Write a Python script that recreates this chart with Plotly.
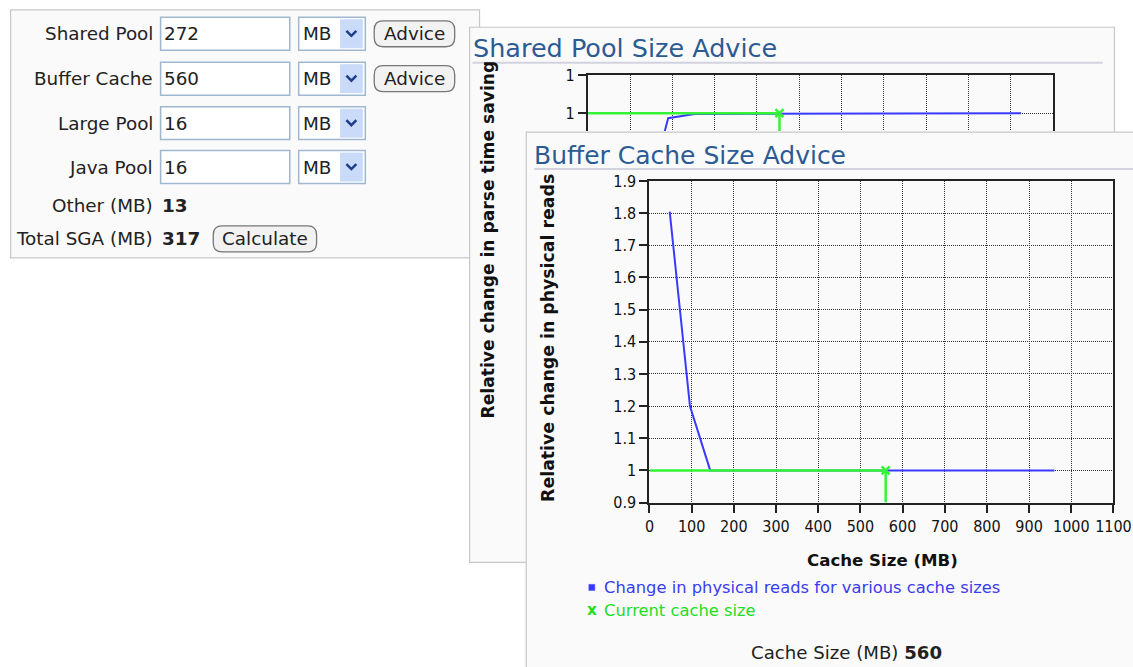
import plotly.graph_objects as go

W, H = 1133, 667

# ---------------- data ----------------
# Buffer cache advice (cache size in MB vs relative change in physical reads)
bc_sizes = [48, 96, 144, 960]
bc_reads = [1.805, 1.2, 1.0, 1.0]
bc_current = 560
bc_current_line_x = [0, 560, 560]
bc_current_line_y = [1.0, 1.0, 0.9]

# Shared pool advice (partly hidden behind the buffer cache panel)
sp_sizes = [96, 114, 151, 615]
sp_saving = [0.9973, 0.99975, 0.99996, 1.0]
sp_current = 272
sp_current_line_x = [0, 272, 272]
sp_current_line_y = [1.0, 1.0, 0.99]

# SGA form
form_labels = ["Shared Pool", "Buffer Cache", "Large Pool", "Java Pool"]
form_values = ["272", "560", "16", "16"]
form_units = ["MB", "MB", "MB", "MB"]
form_advice = [True, True, False, False]
other_mb = "13"
total_sga = "317"

FONT = "DejaVu Sans"
TICKFONT = "DejaVu Sans Condensed, Liberation Sans Narrow, DejaVu Sans"
BLUE = "#3a3aff"
GREEN = "#33f533"
TITLE_C = "#2c5b94"

# screen placement calibration (the photographed page is framed slightly inset)
SX, OX = 0.986, 2.4
SY, OY = 0.973, 8.7
FS = 1.02


def X(px):
    return ((px - OX) / SX) / W


def Y(py):
    return 1 - ((py - OY) / SY) / H


shapes = []
ann = []


def rect(x0, y0, x1, y1, fill, line="#c8c8c8", lw=1.2, layer="below"):
    shapes.append(dict(type="rect", xref="paper", yref="paper", x0=X(x0), x1=X(x1),
                       y0=Y(y1), y1=Y(y0), fillcolor=fill,
                       line=dict(color=line, width=lw), layer=layer))


def hline(x0, x1, y, color, lw):
    shapes.append(dict(type="line", xref="paper", yref="paper", x0=X(x0), x1=X(x1),
                       y0=Y(y), y1=Y(y), line=dict(color=color, width=lw), layer="below"))


def pt(a, b):
    return f"{X(a):.6f},{Y(b):.6f}"


def pill(x0, y0, x1, y1, r, fill="#f2f2f2", line="#777777"):
    p = pt
    path = (f"M {p(x0 + r, y0)} L {p(x1 - r, y0)} Q {p(x1, y0)} {p(x1, y0 + r)} "
            f"L {p(x1, y1 - r)} Q {p(x1, y1)} {p(x1 - r, y1)} L {p(x0 + r, y1)} "
            f"Q {p(x0, y1)} {p(x0, y1 - r)} L {p(x0, y0 + r)} Q {p(x0, y0)} {p(x0 + r, y0)} Z")
    shapes.append(dict(type="path", xref="paper", yref="paper", path=path,
                       fillcolor=fill, line=dict(color=line, width=1.3), layer="below"))


def text(x, y, s, size=18, color="#222222", xa="left", ya="middle", bold=False, angle=0, font=FONT):
    if bold:
        s = f"<b>{s}</b>"
    ann.append(dict(xref="paper", yref="paper", x=X(x), y=Y(y), text=s, showarrow=False,
                    xanchor=xa, yanchor=ya, textangle=angle,
                    font=dict(family=font, size=size * FS, color=color)))


# ---------------- form panel ----------------
rect(8, 9.5, 480, 258, "#fafafa")
row_c = [33.5, 78.5, 123, 167]
for lab, val, unit, adv, yc in zip(form_labels, form_values, form_units, form_advice, row_c):
    text(153, yc, lab, xa="right")
    rect(159, yc - 16.5, 289, yc + 16.5, "#ffffff", line="#9fb8cf", lw=1.5)
    text(160, yc, val)
    rect(298, yc - 16.5, 365, yc + 16.5, "#ffffff", line="#9fb8cf", lw=1.5)
    text(300, yc, unit)
    rect(340, yc - 14, 362, yc + 14, "#c9dbf8", line="#c9dbf8", lw=1)
    shapes.append(dict(type="path", xref="paper", yref="paper",
                       path=f"M {pt(346, yc - 3)} L {pt(351, yc + 2)} L {pt(356, yc - 3)}",
                       line=dict(color="#1f3d8c", width=2.5), layer="below"))
    if adv:
        pill(374, yc - 13, 455, yc + 13, 9)
        text(414.5, yc, "Advice", xa="center")

text(153, 206, "Other (MB)", xa="right")
text(158, 206, other_mb, bold=True)
text(153, 239, "Total SGA (MB)", xa="right")
text(158, 239, total_sga, bold=True)
pill(212, 226, 316, 252, 9)
text(264, 239, "Calculate", xa="center")

# ---------------- shared pool panel ----------------
rect(470, 27, 1119, 563, "#fafafa")
text(471, 48, "Shared Pool Size Advice", size=25, color=TITLE_C)
hline(473, 1107, 62.5, "#d3d3e0", 2)
text(488, 239, "Relative change in parse time saving", size=16.8, color="#111111",
     xa="center", bold=True, angle=-90)

# ---------------- buffer cache panel ----------------
rect(527, 132, 1160, 700, "#fafafa")
text(533, 155, "Buffer Cache Size Advice", size=24.5, color=TITLE_C)
hline(535, 1160, 169, "#d3d3e0", 2)
text(549, 338, "Relative change in physical reads", size=17, color="#111111",
     xa="center", bold=True, angle=-90)
text(886, 561, "Cache Size (MB)", size=16.3, color="#111111", xa="center", bold=True)
rect(590, 585, 596, 591, BLUE, line=BLUE, lw=0.5)
text(603, 588, "Change in physical reads for various cache sizes", size=16, color="#3a3af0")
text(593, 611, "x", size=15, color="#22dd22", xa="center", bold=True)
text(603, 611, "Current cache size", size=16, color="#22dd22")
text(751, 653, f"Cache Size (MB) <b>{bc_current}</b>", size=17.8)

fig = go.Figure()
fig.add_trace(go.Scatter(x=bc_sizes, y=bc_reads, mode="lines", line=dict(color=BLUE, width=2),
                         xaxis="x", yaxis="y", showlegend=False))
fig.add_trace(go.Scatter(x=bc_current_line_x, y=bc_current_line_y, mode="lines",
                         line=dict(color=GREEN, width=2.5), xaxis="x", yaxis="y", showlegend=False))
fig.add_trace(go.Scatter(x=[bc_current], y=[1.0], mode="markers",
                         marker=dict(symbol="x-thin", size=8, color=GREEN,
                                     line=dict(color=GREEN, width=2.5)),
                         xaxis="x", yaxis="y", showlegend=False))
fig.add_trace(go.Scatter(x=sp_sizes, y=sp_saving, mode="lines", line=dict(color=BLUE, width=2),
                         xaxis="x2", yaxis="y2", showlegend=False))
fig.add_trace(go.Scatter(x=sp_current_line_x, y=sp_current_line_y, mode="lines",
                         line=dict(color=GREEN, width=2.5), xaxis="x2", yaxis="y2", showlegend=False))
fig.add_trace(go.Scatter(x=[sp_current], y=[1.0], mode="markers",
                         marker=dict(symbol="x-thin", size=8, color=GREEN,
                                     line=dict(color=GREEN, width=2.5)),
                         xaxis="x2", yaxis="y2", showlegend=False))

grid = dict(showgrid=True, gridcolor="#333333", griddash="1px,1px", gridwidth=1, zeroline=False,
            showline=True, linecolor="#222222", linewidth=2)
tickf = dict(family=TICKFONT, size=16, color="#111111")

fig.update_layout(
    autosize=True, margin=dict(l=0, r=0, t=0, b=0, pad=0),
    paper_bgcolor="#ffffff", plot_bgcolor="rgba(0,0,0,0)",
    shapes=shapes, annotations=ann, showlegend=False,
    xaxis=dict(domain=[X(651), X(1118)], range=[0, 1100.01], tick0=0, dtick=100, anchor="y",
               mirror=True, ticks="outside", ticklen=8, tickwidth=2, tickcolor="#222222",
               tickfont=tickf, ticklabeloverflow="allow", tickangle=0, **grid),
    yaxis=dict(domain=[Y(503), Y(181)], range=[0.9, 1.9], tick0=0.9, dtick=0.1, anchor="x",
               mirror=True, ticks="outside", ticklen=8, tickwidth=2, tickcolor="#222222",
               tickfont=tickf, **grid),
    xaxis2=dict(domain=[X(589), X(1057)], range=[0, 660], tick0=0, dtick=60, anchor="y2",
                side="top", showticklabels=False, ticks="", mirror=False, **grid),
    yaxis2=dict(domain=[Y(131), Y(75)], range=[0.9991, 1.00191], tick0=1.0, dtick=0.0019,
                anchor="x2", tickformat=".0f", mirror=True, ticks="outside", ticklen=8,
                tickwidth=2, tickcolor="#222222", tickfont=tickf, **grid),
)

fig.write_html(
    "out.html",
    config={"displayModeBar": False, "responsive": True},
    default_width="100vw",
    default_height="100vh",
    post_script=("document.body.style.margin='0';document.body.style.overflow='hidden';"
                 "var gd=document.getElementById('{plot_id}');"
                 "gd.style.width='100vw';gd.style.height='100vh';"
                 "Plotly.Plots.resize(gd);"),
)
